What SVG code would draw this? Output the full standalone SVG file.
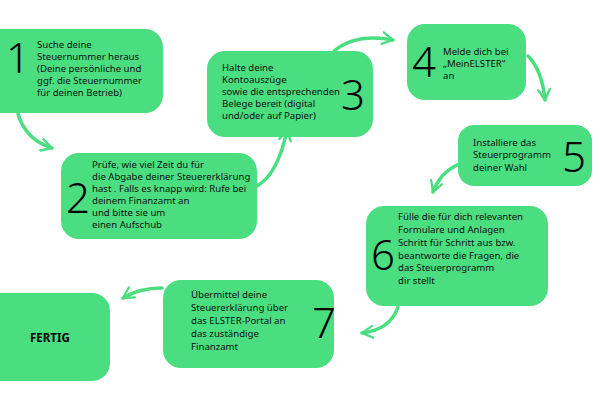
<svg xmlns="http://www.w3.org/2000/svg" width="600" height="400" viewBox="0 0 600 400">
<defs>
<style>
.box{fill:#4ade80}
.t{font-family:"Noto Sans","DejaVu Sans",sans-serif;font-size:9.6px;fill:#111}
.n{font-family:"Noto Sans","DejaVu Sans",sans-serif;font-size:42px;font-weight:300;fill:#000}
.c{fill:none;stroke:#4ade80;stroke-width:3.5;stroke-linecap:round;stroke-linejoin:round}
</style>
<marker id="ah" viewBox="0 0 12 12" refX="10" refY="6" markerWidth="4" markerHeight="4" orient="auto" markerUnits="strokeWidth">
<path d="M1,1 L10,6 L1,11" fill="none" stroke="#4ade80" stroke-width="2" stroke-linecap="round" stroke-linejoin="round"/>
</marker>
</defs>
<rect width="600" height="400" fill="#fff"/>
<g id="connectors">
<path class="c" d="M18,114 Q26,140 52,148" marker-end="url(#ah)"/>
<path class="c" d="M257,186 Q278,174 287,130" marker-end="url(#ah)"/>
<path class="c" d="M334,51 Q356,33 393,40" marker-end="url(#ah)"/>
<path class="c" d="M528,56 Q542,70 545,100" marker-end="url(#ah)"/>
<path class="c" d="M457,165 Q440,173 433,192" marker-end="url(#ah)"/>
<path class="c" d="M398,307 Q390,330 362,333" marker-end="url(#ah)"/>
<path class="c" d="M162,288 Q139,288 123,298" marker-end="url(#ah)"/>
</g>
<g id="n1"><rect class="box" x="-20" y="29" width="183" height="84" rx="18"/>
<text class="n" x="6" y="73">1</text>
<text class="t"><tspan x="37" y="48">Suche deine</tspan><tspan x="37" y="60">Steuernummer heraus</tspan><tspan x="37" y="72">(Deine persönliche und</tspan><tspan x="37" y="84">ggf. die Steuernummer</tspan><tspan x="37" y="96">für deinen Betrieb)</tspan></text></g>
<g id="n2"><rect class="box" x="61" y="153" width="196" height="86" rx="18"/>
<text class="n" x="66" y="213">2</text>
<text class="t"><tspan x="92" y="168">Prüfe, wie viel Zeit du für</tspan><tspan x="92" y="180">die Abgabe deiner Steuererklärung</tspan><tspan x="92" y="192">hast . Falls es knapp wird: Rufe bei</tspan><tspan x="92" y="204">deinem Finanzamt an</tspan><tspan x="92" y="216">und bitte sie um</tspan><tspan x="92" y="228">einen Aufschub</tspan></text></g>
<g id="n3"><rect class="box" x="207" y="51" width="166" height="86" rx="18"/>
<text class="n" x="341" y="110">3</text>
<text class="t"><tspan x="222" y="71">Halte deine</tspan><tspan x="222" y="83">Kontoauszüge</tspan><tspan x="222" y="95">sowie die entsprechenden</tspan><tspan x="222" y="107">Belege bereit (digital</tspan><tspan x="222" y="119">und/oder auf Papier)</tspan></text></g>
<g id="n4"><rect class="box" x="407" y="24" width="119" height="76" rx="18"/>
<text class="n" x="412" y="77">4</text>
<text class="t"><tspan x="443" y="55">Melde dich bei</tspan><tspan x="443" y="67">„MeinELSTER“</tspan><tspan x="443" y="79">an</tspan></text></g>
<g id="n5"><rect class="box" x="458" y="125" width="134" height="61" rx="16"/>
<text class="n" x="562" y="172">5</text>
<text class="t"><tspan x="473" y="146">Installiere das</tspan><tspan x="473" y="158">Steuerprogramm</tspan><tspan x="473" y="171">deiner Wahl</tspan></text></g>
<g id="n6"><rect class="box" x="366" y="206" width="182" height="100" rx="18"/>
<text class="n" x="371" y="270">6</text>
<text class="t"><tspan x="398" y="220">Fülle die für dich relevanten</tspan><tspan x="398" y="233">Formulare und Anlagen</tspan><tspan x="398" y="246">Schritt für Schritt aus bzw.</tspan><tspan x="398" y="259">beantworte die Fragen, die</tspan><tspan x="398" y="271">das Steuerprogramm</tspan><tspan x="398" y="284">dir stellt</tspan></text></g>
<g id="n7"><rect class="box" x="163" y="280" width="171" height="88" rx="18"/>
<text class="n" x="312" y="338">7</text>
<text class="t"><tspan x="191" y="298">Übermittel deine</tspan><tspan x="191" y="311">Steuererklärung über</tspan><tspan x="191" y="324">das ELSTER-Portal an</tspan><tspan x="191" y="337">das zuständige</tspan><tspan x="191" y="350">Finanzamt</tspan></text></g>
<g id="fertig"><rect class="box" x="-20" y="293" width="130" height="88" rx="18"/>
<text x="30" y="342" style="font-family:'Noto Sans','DejaVu Sans',sans-serif;font-size:11.5px;font-weight:bold;fill:#000">FERTIG</text></g>
</svg>
